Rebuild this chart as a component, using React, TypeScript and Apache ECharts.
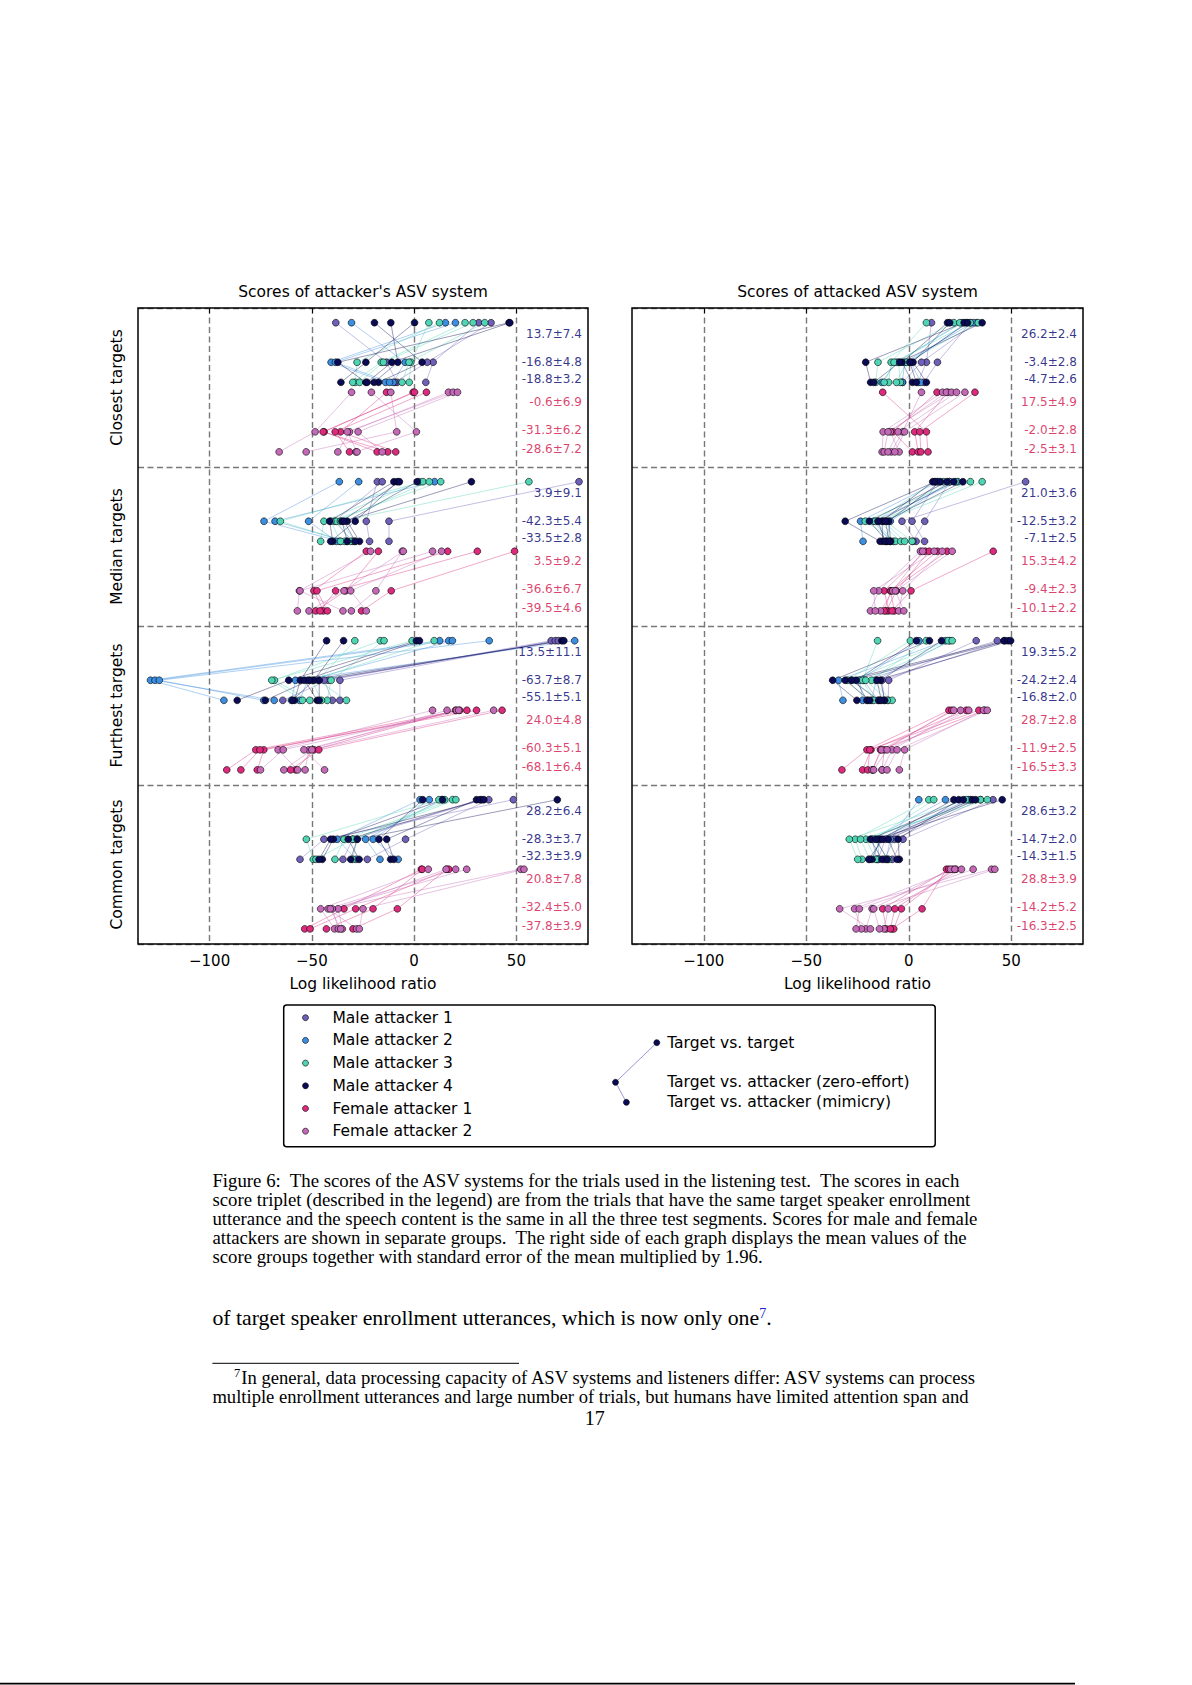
import React, { useEffect, useRef } from 'react';
import * as echarts from 'echarts';

// ---------------- data ----------------
const attackerNames = ['Male attacker 1', 'Male attacker 2', 'Male attacker 3', 'Male attacker 4', 'Female attacker 1', 'Female attacker 2'];
const attackerColors = ['#6f5fb8', '#3c8ee0', '#4fd4b4', '#0b0b55', '#dc2a7c', '#c468b8'];
const groupNames = ['Closest targets', 'Median targets', 'Furthest targets', 'Common targets'];
const panelTitles = ["Scores of attacker's ASV system", 'Scores of attacked ASV system'];
const xTicks = [-100, -50, 0, 50];
const tripletLegend = ['Target vs. target', 'Target vs. attacker (zero-effort)', 'Target vs. attacker (mimicry)'];

// [attacker index, target vs target, target vs attacker (zero-effort), target vs attacker (mimicry)]
type Triplet = [number, number, number, number];

const attackerClosest: Triplet[] = [
  [0, -38.3, -13.5, -8.3], [0, 31.6, 9.3, 5.7], [0, 37.6, 6.4, -9.5],
  [1, -30.6, -4.4, -10.3], [1, 15.3, -40.6, -14.0], [1, 20.2, -38.5, -12.0],
  [2, 7.2, -1.6, -2.4], [2, 12.4, -27.9, -28.8], [2, 24.9, -16.1, -30.0], [2, 28.8, -15.0, -26.7], [2, 34.5, -2.5, -5.9],
  [3, -19.4, 3.9, -17.4], [3, -11.4, -8.0, -19.6], [3, 0.2, -23.6, -35.8], [3, 46.4, -37.3, -23.6], [3, 46.8, -10.9, -23.0],
  [4, -13.5, -36.0, -9.0], [4, -0.5, -44.0, -18.1], [4, 0.2, -44.5, -12.9], [4, 6.0, -38.6, -31.6],
  [5, -30.6, -48.4, -66.0], [5, -20.9, 1.1, -28.5], [5, -11.4, -8.5, -52.8], [5, 16.8, -31.6, -37.3], [5, 19.1, -32.7, -27.9], [5, 21.2, -27.4, -15.6],
];
const attackerMedian: Triplet[] = [
  [0, -18.0, -23.4, -21.8], [0, -15.6, -38.9, -30.0], [0, 80.6, -12.3, -12.3],
  [1, -36.6, -73.4, -36.2], [1, -27.1, -51.6, -38.0], [1, 10.0, -68.0, -33.0],
  [2, 2.5, -44.1, -45.7], [2, 4.3, -65.4, -34.0], [2, 7.4, -38.0, -31.0], [2, 13.0, -40.7, -36.0], [2, 56.1, -36.0, -29.0],
  [3, -9.9, -41.3, -39.8], [3, -8.2, -28.8, -40.8], [3, -7.2, -35.3, -32.7], [3, 1.5, -32.7, -26.7], [3, 28.0, -34.3, -28.8],
  [4, -23.4, -49.0, -44.4], [4, -17.5, -33.5, -48.1], [4, 16.4, -47.5, -42.4], [4, 30.9, -38.4, -46.0], [4, 49.1, -11.2, -25.7],
  [5, -21.3, -56.1, -57.1], [5, -5.8, -18.7, -30.7], [5, -5.3, -34.3, -51.4], [5, 9.0, -55.8, -34.8], [5, 13.4, -31.0, -23.4],
];
const attackerFurthest: Triplet[] = [
  [0, 67.0, -42.0, -64.2], [0, 69.0, -36.3, -36.3], [0, 70.5, -44.0, -40.0],
  [1, 12.5, -128.9, -93.0], [1, 16.9, -126.7, -68.4], [1, 18.7, -52.0, -56.0], [1, 36.7, -124.6, -73.5], [1, 78.5, -58.0, -60.0],
  [2, -29.0, -47.0, -33.1], [2, -16.5, -68.3, -51.0], [2, -14.7, -40.6, -42.5], [2, -1.0, -69.6, -54.6], [2, 9.8, -50.0, -45.3],
  [3, -42.8, -55.6, -58.5], [3, -34.5, -49.0, -59.5], [3, 1.1, -61.3, -86.5], [3, 2.6, -53.6, -47.4], [3, 72.2, -46.4, -46.4], [3, 73.2, -51.2, -72.7],
  [4, 20.2, -49.0, -58.0], [4, 22.3, -77.4, -91.6], [4, 25.8, -73.5, -76.7], [4, 30.5, -75.4, -84.7], [4, 43.0, -46.6, -60.4],
  [5, 9.0, -66.5, -56.9], [5, 16.1, -51.5, -53.3], [5, 20.7, -53.9, -43.8], [5, 21.8, -64.0, -75.1], [5, 38.9, -50.0, -63.7],
];
const attackerCommon: Triplet[] = [
  [0, 33.0, -30.0, -34.8], [0, 36.5, -4.2, -22.9], [0, 48.5, -44.1, -55.8],
  [1, 2.9, -37.6, -28.4], [1, 7.4, -20.0, -7.8], [1, 13.5, -23.7, -16.7],
  [2, 12.1, -52.7, -49.3], [2, 15.0, -28.0, -30.0], [2, 18.8, -34.3, -38.7], [2, 20.4, -30.0, -48.0],
  [3, 4.2, -17.2, -11.5], [3, 13.9, -39.5, -44.9], [3, 30.5, -13.4, -9.9], [3, 32.2, -32.2, -26.9], [3, 34.1, -40.8, -46.5], [3, 70.0, -27.8, -31.0],
  [4, 3.5, -34.3, -53.5], [4, 4.0, -20.1, -42.9], [4, 16.0, -8.2, -29.9], [4, 17.0, -28.6, -50.9],
  [5, 6.9, -45.7, -38.9], [5, 15.6, -37.2, -35.1], [5, 20.3, -42.1, -28.1], [5, 25.7, -40.0, -37.0], [5, 52.1, -41.0, -35.9], [5, 53.7, -25.0, -26.8],
];

const attackedClosest: Triplet[] = [
  [0, 11.1, 8.6, 4.5], [0, 30.0, 14.0, 7.5], [0, 33.0, 6.2, -3.0],
  [1, 26.0, -6.0, -13.2], [1, 28.0, 1.0, 5.9], [1, 31.4, -2.0, -3.1],
  [2, 8.6, -8.6, -9.8], [2, 22.0, -15.0, -16.1], [2, 24.9, -5.0, -4.1], [2, 30.0, -7.2, -12.0], [2, 33.9, -1.0, -6.0],
  [3, 18.9, -3.3, 1.8], [3, 20.0, 2.1, 8.6], [3, 27.0, -21.0, -18.6], [3, 28.7, 0.5, 3.7], [3, 35.8, -4.4, -17.0],
  [4, -12.7, 8.6, 9.4], [4, 13.8, -7.7, 1.8], [4, 19.0, 2.9, 4.6], [4, 32.3, 5.4, 5.9],
  [5, 6.2, -3.0, -8.5], [5, 16.5, -12.5, -13.0], [5, 18.4, -9.0, -4.7], [5, 20.9, -10.1, -12.0], [5, 23.3, -5.2, -10.1], [5, 27.4, -2.0, -6.8],
];
const attackedMedian: Triplet[] = [
  [0, 57.0, -3.3, 3.6], [0, 14.0, 1.6, 7.7], [0, 20.0, 7.8, 2.0],
  [1, 14.5, -23.5, -22.3], [1, 19.9, -9.0, -11.0], [1, 24.0, -17.1, -9.0],
  [2, 12.5, -16.3, -7.5], [2, 17.1, -11.0, 1.6], [2, 23.0, -21.2, -6.5], [2, 30.1, -14.7, -3.9], [2, 35.8, -12.5, -2.0],
  [3, 11.7, -13.0, -12.7], [3, 13.0, -31.0, -14.0], [3, 15.5, -9.8, -8.8], [3, 18.7, -19.2, -10.6], [3, 22.0, -15.0, -11.5], [3, 26.4, -11.4, -9.5],
  [4, 8.1, -12.0, -9.8], [4, 10.0, -6.0, -11.0], [4, 14.0, -9.0, -7.0], [4, 18.7, -8.6, -12.0], [4, 41.2, 1.1, -8.1],
  [5, 5.7, -14.7, -18.7], [5, 6.8, -7.8, -13.8], [5, 12.4, -17.1, -16.3], [5, 16.3, -2.9, -4.9], [5, 21.2, -6.5, -2.4],
];
const attackedFurthest: Triplet[] = [
  [0, 32.9, -9.8, -10.0], [0, 43.2, -22.0, -15.0], [0, 47.0, -13.0, -12.0],
  [1, 5.0, -24.0, -22.5], [1, 17.9, -34.2, -32.1], [1, 20.0, -16.0, -18.0],
  [2, -15.2, -22.5, -17.1], [2, 0.8, -30.0, -20.0], [2, 8.5, -18.2, -8.1], [2, 19.2, -27.7, -14.0], [2, 21.2, -21.0, -10.5],
  [3, 3.7, -25.7, -20.4], [3, 10.1, -37.1, -25.3], [3, 16.0, -13.8, -11.7], [3, 46.4, -31.0, -19.0], [3, 48.5, -28.0, -14.7], [3, 49.7, -15.5, -13.4],
  [4, 19.6, -20.4, -32.6], [4, 21.0, -12.0, -13.0], [4, 28.0, -18.4, -22.5], [4, 34.2, -19.0, -20.0], [4, 37.0, -13.8, -17.5],
  [5, 22.0, -13.3, -17.9], [5, 25.3, -8.1, -13.0], [5, 29.3, -10.6, -17.1], [5, 36.5, -2.0, -4.6], [5, 38.3, -5.7, -10.6],
];
const attackedCommon: Triplet[] = [
  [0, 30.0, -11.4, -15.0], [0, 35.0, -7.0, -12.0], [0, 41.1, -2.8, -8.0],
  [1, 4.9, -9.0, -11.0], [1, 17.9, -18.0, -15.5], [1, 29.3, -15.0, -14.7],
  [2, 9.8, -26.1, -22.8], [2, 12.2, -17.0, -9.8], [2, 28.0, -29.0, -24.9], [2, 35.0, -20.9, -16.0], [2, 38.3, -23.5, -19.0],
  [3, 22.0, -13.8, -17.9], [3, 24.4, -5.2, -4.6], [3, 26.6, -18.7, -13.0], [3, 31.0, -12.7, -19.5], [3, 32.6, -10.0, -5.7], [3, 45.6, -16.0, -10.5],
  [4, 18.4, 6.5, -8.1], [4, 19.5, -12.7, -11.0], [4, 21.5, -3.6, -7.3], [4, 23.0, -6.8, -9.0],
  [5, 20.4, -17.9, -20.9], [5, 22.5, -26.4, -23.1], [5, 25.7, -10.0, -12.1], [5, 31.4, -24.1, -25.7], [5, 40.4, -33.7, -18.7], [5, 42.0, -17.1, -14.3],
];

const attackerMeans = [
  ['13.7±7.4', '-16.8±4.8', '-18.8±3.2', '-0.6±6.9', '-31.3±6.2', '-28.6±7.2'],
  ['3.9±9.1', '-42.3±5.4', '-33.5±2.8', '3.5±9.2', '-36.6±6.7', '-39.5±4.6'],
  ['13.5±11.1', '-63.7±8.7', '-55.1±5.1', '24.0±4.8', '-60.3±5.1', '-68.1±6.4'],
  ['28.2±6.4', '-28.3±3.7', '-32.3±3.9', '20.8±7.8', '-32.4±5.0', '-37.8±3.9'],
];
const attackedMeans = [
  ['26.2±2.4', '-3.4±2.8', '-4.7±2.6', '17.5±4.9', '-2.0±2.8', '-2.5±3.1'],
  ['21.0±3.6', '-12.5±3.2', '-7.1±2.5', '15.3±4.2', '-9.4±2.3', '-10.1±2.2'],
  ['19.3±5.2', '-24.2±2.4', '-16.8±2.0', '28.7±2.8', '-11.9±2.5', '-16.5±3.3'],
  ['28.6±3.2', '-14.7±2.0', '-14.3±1.5', '28.8±3.9', '-14.2±5.2', '-16.3±2.5'],
];

const captionLines = [
  'Figure 6:  The scores of the ASV systems for the trials used in the listening test.  The scores in each',
  'score triplet (described in the legend) are from the trials that have the same target speaker enrollment',
  'utterance and the speech content is the same in all the three test segments. Scores for male and female',
  'attackers are shown in separate groups.  The right side of each graph displays the mean values of the',
  'score groups together with standard error of the mean multiplied by 1.96.',
];
const bodyLine = 'of target speaker enrollment utterances, which is now only one{sup|7}.';
const footnoteLines = [
  '{sup|7}In general, data processing capacity of ASV systems and listeners differ: ASV systems can process',
  'multiple enrollment utterances and large number of trials, but humans have limited attention span and',
];
const pageNumber = '17';

// ---------------- layout ----------------
const SANS = 'DejaVu Sans';
const SERIF = 'Liberation Serif';
const PANELS = [
  { left: 138, top: 308, width: 450, height: 636 },
  { left: 632, top: 308, width: 451, height: 636 },
];
const GROUP_SPAN = 8;
const MALE_ROWS = [0.74, 2.73, 3.74];
const FEMALE_ROWS = [4.24, 6.23, 7.24];
const LABEL_ROWS = [1.29, 2.73, 3.57, 4.74, 6.15, 7.08];
const MALE_LABEL = '#000070';
const FEMALE_LABEL = '#d40f4a';
const GRID_LINE = { type: [6, 3.5], color: '#777777', width: 1.4 };

function buildPanel(p: number, groups: Triplet[][], means: string[][]) {
  const series: any[] = [];
  const lineData: any[] = [];
  const points: number[][][] = attackerNames.map(() => []);
  groups.forEach((trips, g) => {
    trips.forEach(([a, tt, ze, mim]) => {
      const rows = a < 4 ? MALE_ROWS : FEMALE_ROWS;
      const base = g * GROUP_SPAN;
      const coords = [[tt, base + rows[0]], [ze, base + rows[1]], [mim, base + rows[2]]];
      lineData.push({ coords, lineStyle: { color: attackerColors[a] } });
      coords.forEach((c) => points[a].push(c));
    });
  });
  series.push({
    type: 'lines',
    coordinateSystem: 'cartesian2d',
    xAxisIndex: p,
    yAxisIndex: p,
    polyline: true,
    silent: true,
    data: lineData,
    lineStyle: { width: 0.9, opacity: 0.45 },
    z: 2,
  });
  points.forEach((pts, a) => {
    series.push({
      type: 'scatter',
      name: attackerNames[a],
      xAxisIndex: p,
      yAxisIndex: p,
      data: pts,
      symbolSize: 6.8,
      itemStyle: { color: attackerColors[a], borderColor: '#000', borderWidth: 0.6, opacity: 1 },
      z: 3,
    });
  });
  const labelData: any[] = [];
  means.forEach((row, g) =>
    row.forEach((txt, i) =>
      labelData.push({
        value: [82, g * GROUP_SPAN + LABEL_ROWS[i]],
        name: txt,
        label: { color: i < 3 ? MALE_LABEL : FEMALE_LABEL },
      })
    )
  );
  series.push({
    type: 'scatter',
    xAxisIndex: p,
    yAxisIndex: p,
    symbolSize: 0,
    silent: true,
    data: labelData,
    label: {
      show: true,
      position: 'left',
      distance: 0,
      formatter: (d: any) => d.name,
      fontSize: 12,
      fontFamily: SANS,
    },
    z: 4,
  });
  return series;
}

function txt(x: number, y: number, text: string, size: number, family: string, align = 'left', extra: any = {}) {
  return {
    type: 'text',
    x,
    y,
    z: 50,
    ...extra,
    style: {
      text,
      fill: '#000',
      fontSize: size,
      fontFamily: family,
      align,
      textAlign: align,
      verticalAlign: 'middle',
      textVerticalAlign: 'middle',
      ...(extra.style || {}),
    },
  };
}

export default function App() {
  const ref = useRef<HTMLDivElement>(null);
  useEffect(() => {
    if (!ref.current) return;
    const chart = echarts.init(ref.current, undefined, { renderer: 'svg' });

    const grids = PANELS.map((pp) => ({ ...pp, show: false, containLabel: false }));
    const xAxes = PANELS.map((_, p) => ({
      type: 'value',
      gridIndex: p,
      min: -135,
      max: 85,
      splitNumber: 4,
      axisLine: { show: false },
      axisTick: { show: true, customValues: xTicks, length: 5, inside: false, lineStyle: { color: '#000', width: 1 } },
      axisLabel: {
        customValues: xTicks,
        color: '#000',
        fontSize: 15,
        fontFamily: SANS,
        margin: 9,
        formatter: (v: number) => (v < 0 ? '\u2212' + Math.abs(v) : String(v)),
      },
      splitLine: { show: true, lineStyle: GRID_LINE },
      name: 'Log likelihood ratio',
      nameLocation: 'middle',
      nameGap: 32,
      nameTextStyle: { color: '#000', fontSize: 15.5, fontFamily: SANS },
    }));
    const yAxes = PANELS.map((_, p) => ({
      type: 'value',
      gridIndex: p,
      min: 0,
      max: 32,
      interval: 8,
      inverse: true,
      axisLine: { show: false },
      axisTick: { show: false },
      axisLabel: { show: false },
      splitLine: { show: true, lineStyle: GRID_LINE },
    }));

    const series = [
      ...buildPanel(0, [attackerClosest, attackerMedian, attackerFurthest, attackerCommon], attackerMeans),
      ...buildPanel(1, [attackedClosest, attackedMedian, attackedFurthest, attackedCommon], attackedMeans),
    ];

    const elements: any[] = [];
    PANELS.forEach((pp, p) => {
      elements.push({
        type: 'rect',
        z: 40,
        shape: { x: pp.left, y: pp.top, width: pp.width, height: pp.height },
        style: { fill: 'none', stroke: '#000', lineWidth: 1.5 },
      });
      elements.push(txt(pp.left + pp.width / 2, 291.7, panelTitles[p], 15.5, SANS, 'center'));
    });
    groupNames.forEach((g, i) => {
      const cy = PANELS[0].top + (i + 0.5) * (PANELS[0].height / 4);
      elements.push(txt(117, cy, g, 15.5, SANS, 'center', { rotation: Math.PI / 2 }));
    });

    // legend box
    const lx = 283.7, ly = 1005, lw = 651.5, lh = 141.7;
    elements.push({
      type: 'rect',
      z: 30,
      shape: { x: lx, y: ly, width: lw, height: lh, r: 3 },
      style: { fill: '#fff', stroke: '#000', lineWidth: 1.5 },
    });
    attackerNames.forEach((n, i) => {
      const cy = 1017.7 + i * 22.7;
      elements.push({
        type: 'circle',
        z: 45,
        shape: { cx: 305.5, cy, r: 3 },
        style: { fill: attackerColors[i], stroke: '#000', lineWidth: 0.6 },
      });
      elements.push(txt(332.5, cy, n, 15.5, SANS, 'left'));
    });
    const demo = [[656.8, 1042.7], [615.5, 1082.3], [626.4, 1102.3]];
    elements.push({
      type: 'polyline',
      z: 44,
      shape: { points: demo },
      style: { stroke: '#7f7fc8', lineWidth: 1, fill: 'none', opacity: 0.8 },
    });
    demo.forEach((pt) =>
      elements.push({
        type: 'circle',
        z: 45,
        shape: { cx: pt[0], cy: pt[1], r: 3 },
        style: { fill: attackerColors[3], stroke: '#000', lineWidth: 0.6 },
      })
    );
    tripletLegend.forEach((t, i) => elements.push(txt(667.2, demo[i][1], t, 15.5, SANS, 'left')));

    // caption
    const capY = [1180.7, 1199.5, 1218.3, 1237.3, 1256.5];
    captionLines.forEach((line, i) => {
      elements.push(txt(212.4, capY[i], line, 18.8, SERIF, 'left'));
    });
    elements.push(
      txt(212.4, 1318.3, bodyLine, 21.8, SERIF, 'left', {
        style: { rich: { sup: { fontSize: 14, fill: '#2020d0', fontFamily: SERIF, verticalAlign: 'top', padding: [0, 0, 9, 0] } } },
      })
    );
    elements.push({
      type: 'line',
      z: 50,
      shape: { x1: 212.4, y1: 1363.3, x2: 519, y2: 1363.3 },
      style: { stroke: '#000', lineWidth: 1 },
    });
    footnoteLines.forEach((line, i) => {
      elements.push(
        txt(i === 0 ? 234 : 212.4, i === 0 ? 1377.3 : 1396.2, line, 18.6, SERIF, 'left', {
          style: { rich: { sup: { fontSize: 12.5, fill: '#000', fontFamily: SERIF, verticalAlign: 'top', padding: [0, 1, 8, 0] } } },
        })
      );
    });
    elements.push(txt(594.7, 1418.3, pageNumber, 20, SERIF, 'center'));
    elements.push({
      type: 'line',
      z: 50,
      shape: { x1: 0, y1: 1683.6, x2: 1075, y2: 1683.6 },
      style: { stroke: '#000', lineWidth: 1.6 },
    });

    chart.setOption({
      animation: false,
      backgroundColor: '#fff',
      grid: grids,
      xAxis: xAxes,
      yAxis: yAxes,
      series,
      graphic: { elements },
    });
    return () => chart.dispose();
  }, []);
  return (
    <div
      ref={ref}
      style={{ position: 'absolute', left: 0, top: 0, width: 1192, height: 1685, background: '#fff' }}
    />
  );
}
